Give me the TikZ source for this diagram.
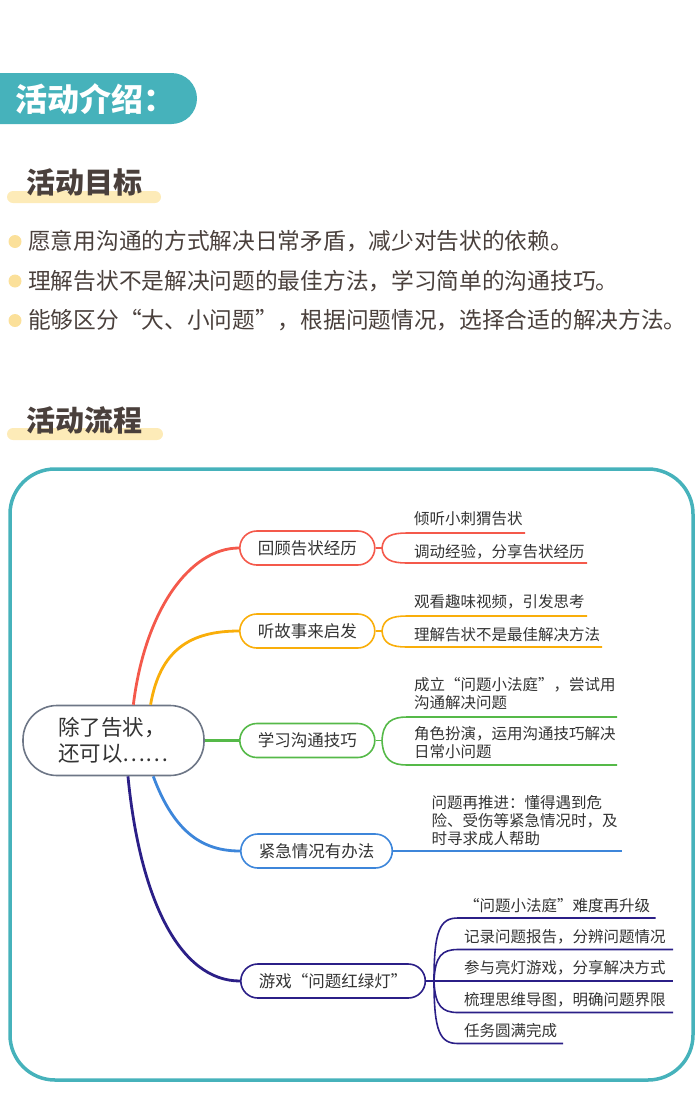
\documentclass[tikz,border=0pt]{standalone}
\usepackage{fontspec}
\setmainfont{Noto Sans CJK SC}
\usepackage{xcolor}
\usepackage{tikz}

\definecolor{cteal}{HTML}{46B2BB}
\definecolor{cbrown}{HTML}{4A403C}
\definecolor{chigh}{HTML}{FDEBB8}
\definecolor{cdot}{HTML}{FBE09A}
\definecolor{ctxt}{HTML}{333333}
\definecolor{chub}{HTML}{6D7686}
\definecolor{cred}{HTML}{F4594B}
\definecolor{corange}{HTML}{F9AE0A}
\definecolor{cgreen}{HTML}{55B948}
\definecolor{cblue}{HTML}{3D86DA}
\definecolor{cnavy}{HTML}{2B1F87}

\begin{document}
\begin{tikzpicture}[x=1pt,y=-1pt,
    title/.style={anchor=west, inner sep=0, text=cbrown, font=\fontsize{29}{29}\selectfont\bfseries},
    hub/.style={draw=chub, line width=1.6pt, rounded corners=34pt, fill=white, minimum width=181pt,
        minimum height=70pt, align=left, text=ctxt, font=\fontsize{21.5}{26}\selectfont},
    topic/.style={draw=#1, line width=1.6pt, rounded corners=17pt, minimum height=34pt, inner xsep=18pt,
        anchor=west, text=ctxt, font=\fontsize{16.5}{20}\selectfont},
    leaf/.style={anchor=base west, inner sep=0, align=left, text=ctxt, font=\fontsize{15.5}{18}\selectfont},
    root/.style={line width=2.8pt},
    twig/.style={line width=1.6pt}]
    \useasboundingbox (0,0) rectangle (700,1111);

    % header
    \fill[cteal, rounded corners=25.5pt] (-40,73) rectangle (197,124);
    \node[anchor=west, inner sep=0, text=white, font=\fontsize{32}{32}\selectfont\bfseries] (intro) at (15,99) {活动介绍：};

    \fill[chigh, rounded corners=6pt] (7,191) rectangle (161,203);
    \node[title] (goal) at (26,182) {活动目标};

    \foreach \t [count=\i] in {愿意用沟通的方式解决日常矛盾，减少对告状的依赖。,
        理解告状不是解决问题的最佳方法，学习简单的沟通技巧。,
        能够区分“大、小问题”，根据问题情况，选择合适的解决方法。} {
        \fill[cdot] (15,{202+39.5*\i}) circle (6.5);
        \node[anchor=west, inner sep=0, text=cbrown, font=\fontsize{22.7}{24}\selectfont] (aim\i) at (28,{202+39.5*\i}) {\t};
    }

    \fill[chigh, rounded corners=6pt] (7,428) rectangle (163,440);
    \node[title] (flow) at (26,420) {活动流程};

    % mind map
    \draw[cteal, line width=3.5pt, rounded corners=45pt] (10,469) rectangle (693,1080);

    \node[hub] (hub) at (113.5,740.5) {除了告状，\\还可以……};

    \node[topic=cred] (b1) at (239,548) {回顾告状经历};
    \node[topic=corange] (b2) at (239,631) {听故事来启发};
    \node[topic=cgreen] (b3) at (239,740.5) {学习沟通技巧};
    \node[topic=cblue] (b4) at (240,851) {紧急情况有办法};
    \node[topic=cnavy] (b5) at (240,981) {游戏“问题红绿灯”};

    \draw[cred, root] (hub.61) .. controls (145,610) and (190,548) .. (b1.west);
    \draw[corange, root] (hub.44) .. controls (160,650) and (190,631) .. (b2.west);
    \draw[cgreen, root] (hub.east) -- (b3.west);
    \draw[cblue, root] (hub.-42) .. controls (175,835) and (205,851) .. (b4.west);
    \draw[cnavy, root] (hub.-68) .. controls (140,900) and (180,981) .. (b5.west);

    % leaves
    \node[leaf] (l11) at (414,524) {倾听小刺猬告状};
    \node[leaf] (l12) at (414,557) {调动经验，分享告状经历};
    \coordinate (r0) at (382,548);
    \coordinate (l11e) at (525,533);
    \coordinate (l12e) at (587,563);
    \draw[cred, twig] (b1.east) -- (r0);
    \draw[cred, twig] (r0) .. controls (383,536) and (392,533) .. (407,533) -- (l11e);
    \draw[cred, twig] (r0) .. controls (383,560) and (392,563) .. (407,563) -- (l12e);

    \node[leaf] (l21) at (414,607.5) {观看趣味视频，引发思考};
    \node[leaf] (l22) at (414,640) {理解告状不是最佳解决方法};
    \coordinate (o0) at (382,631);
    \coordinate (l21e) at (587,616);
    \coordinate (l22e) at (602,647);
    \draw[corange, twig] (b2.east) -- (o0);
    \draw[corange, twig] (o0) .. controls (383,619) and (392,616) .. (407,616) -- (l21e);
    \draw[corange, twig] (o0) .. controls (383,644) and (392,647) .. (407,647) -- (l22e);

    % multi-line leaves sit on their last line
    \node[leaf] (l31) at (414,708) {成立“问题小法庭”，尝试用\\沟通解决问题};
    \node[leaf] (l32) at (414,757.5) {角色扮演，运用沟通技巧解决\\日常小问题};
    \coordinate (g0) at (382,740.5);
    \coordinate (l31e) at (617,717);
    \coordinate (l32e) at (617,765);
    \draw[cgreen, twig] (b3.east) -- (g0);
    \draw[cgreen, twig] (g0) .. controls (383,722) and (392,717) .. (407,717) -- (l31e);
    \draw[cgreen, twig] (g0) .. controls (383,760) and (392,765) .. (407,765) -- (l32e);

    \node[leaf] (l41) at (431.5,844) {问题再推进：懂得遇到危\\险、受伤等紧急情况时，及\\时寻求成人帮助};
    \coordinate (l41e) at (622,851);
    \draw[cblue, twig] (b4.east) -- (l41e);

    \node[leaf] (l51) at (464,911) {“问题小法庭”难度再升级};
    \node[leaf] (l52) at (464,942) {记录问题报告，分辨问题情况};
    \node[leaf] (l53) at (464,973.5) {参与亮灯游戏，分享解决方式};
    \node[leaf] (l54) at (464,1005) {梳理思维导图，明确问题界限};
    \node[leaf] (l55) at (464,1036.5) {任务圆满完成};
    \coordinate (n0) at (434,981);
    \coordinate (l51e) at (655.5,918);
    \coordinate (l52e) at (673,949.5);
    \coordinate (l53e) at (673,981);
    \coordinate (l54e) at (673,1012.5);
    \coordinate (l55e) at (563,1043.5);
    \draw[cnavy, twig] (b5.east) -- (l53e);
    \draw[cnavy, twig] (n0) .. controls (434,930) and (440,918) .. (458,918) -- (l51e);
    \draw[cnavy, twig] (n0) .. controls (435,956) and (442,949.5) .. (458,949.5) -- (l52e);
    \draw[cnavy, twig] (n0) .. controls (435,1006) and (442,1012.5) .. (458,1012.5) -- (l54e);
    \draw[cnavy, twig] (n0) .. controls (434,1032) and (440,1043.5) .. (458,1043.5) -- (l55e);
\end{tikzpicture}
\end{document}
